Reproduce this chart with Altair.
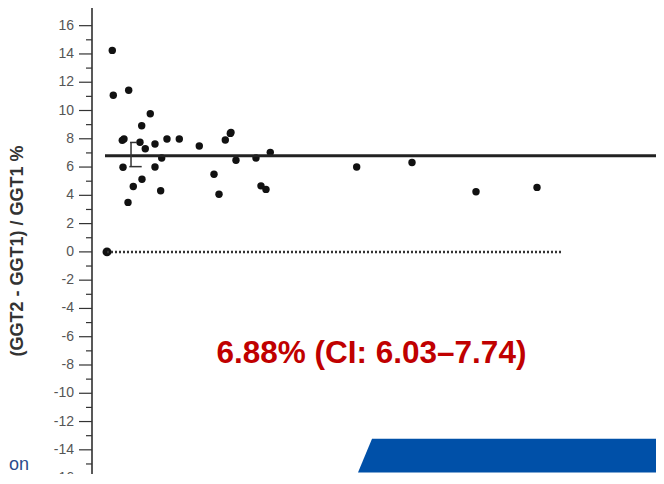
import altair as alt
import pandas as pd

# ---- data ----
pct_x = [3.57, 3.75, 6.46, 10.26, 8.75, 5.33, 5.63, 8.45, 9.38, 11.09, 13.20, 15.37,
         18.89, 23.47, 24.35, 24.47, 31.39, 12.27, 25.35, 28.87, 5.46, 11.09, 21.48,
         8.80, 7.27, 12.09, 22.36, 29.75, 30.63, 6.34, 46.60, 56.34, 67.61, 78.35]
pct_y = [14.25, 11.08, 11.43, 9.77, 8.92, 7.89, 7.98, 7.75, 7.30, 7.63, 7.98, 7.98,
         7.49, 7.91, 8.38, 8.45, 7.04, 6.64, 6.48, 6.64, 5.99, 6.00, 5.49,
         5.14, 4.63, 4.32, 4.08, 4.67, 4.42, 3.50, 6.00, 6.32, 4.25, 4.56]
ref_x = [2.64]
ref_y = [0.0]
mean_value = 6.8
mean_x = [2.29, 99.3]
zero_x = [2.64, 82.75]
ci_x = [6.87]
ci_low = [6.03]
ci_high = [7.74]
cap_low_x = [6.57, 8.75]
cap_high_x = [6.70, 7.90]
label_text = ["6.88% (CI: 6.03\u20137.74)"]
label_pos = [49.2, -7.2]
major_ticks = [-16, -14, -12, -10, -8, -6, -4, -2, 0, 2, 4, 6, 8, 10, 12, 14, 16]
tick_labels = ["-16", "-14", "-12", "-10", "-8", "-6", "-4", "-2", "0", "2", "4", "6",
               "8", "10", "12", "14", "16"]
minor_ticks = [-15, -13, -11, -9, -7, -5, -3, -1, 1, 3, 5, 7, 9, 11, 13, 15]
y_title = ["(GGT2 - GGT1) / GGT1 %"]
banner_x = [46.83, 49.30, 99.3]
banner_top = [-15.6, -13.22, -13.22]
banner_bottom = [-15.6, -15.6, -15.6]
corner_text = ["on"]
corner_pos = [-14.6, -15.7]

Y_DOM = [-15.71, 17.25]
X_DOM = [0, 99.3]
FONT = "Liberation Sans"

xs = alt.Scale(domain=X_DOM, nice=False, zero=False)
ys = alt.Scale(domain=Y_DOM, nice=False, zero=False)


def Y(field="y"):
    return alt.Y(f"{field}:Q", scale=ys, axis=None)


def X(field="x"):
    return alt.X(f"{field}:Q", scale=xs, axis=None)


# ---- hand-built y axis ----
dom_df = pd.DataFrame({"y": [Y_DOM[0]], "y2": [Y_DOM[1]]})
domain_line = alt.Chart(dom_df).mark_rule(color="#222", strokeWidth=1.5).encode(
    x=alt.value(0), y=Y(), y2="y2:Q"
)
maj_df = pd.DataFrame({"y": major_ticks, "t": tick_labels})
major = alt.Chart(maj_df).mark_rule(color="#333", strokeWidth=1.2).encode(
    x=alt.value(-13), x2=alt.value(0), y=Y()
)
labels = alt.Chart(maj_df).mark_text(
    font=FONT, fontSize=14, color="#555", align="right", baseline="middle"
).encode(x=alt.value(-18), y=Y(), text="t:N")
minor_df = pd.DataFrame({"y": minor_ticks})
minor = alt.Chart(minor_df).mark_rule(color="#333", strokeWidth=1.2).encode(
    x=alt.value(-6), x2=alt.value(0), y=Y()
)
title_df = pd.DataFrame({"t": y_title})
title = alt.Chart(title_df).mark_text(
    font=FONT, fontSize=18, fontWeight="bold", color="#333", angle=270,
    align="center", baseline="middle"
).encode(x=alt.value(-74), y=alt.value(243), text="t:N")

# ---- data marks ----
pts = pd.DataFrame({"x": pct_x, "y": pct_y})
refp = pd.DataFrame({"x": ref_x, "y": ref_y})
points = alt.Chart(pts).mark_circle(size=55, color="#111", opacity=1).encode(x=X(), y=Y())
refpoint = alt.Chart(refp).mark_circle(size=80, color="#111", opacity=1).encode(x=X(), y=Y())

mean_df = pd.DataFrame({"x": [mean_x[0]], "x2": [mean_x[1]], "y": [mean_value]})
mean_line = alt.Chart(mean_df).mark_rule(color="#222", strokeWidth=3).encode(
    x=X(), x2="x2:Q", y=Y()
)

zero_df = pd.DataFrame({"x": [zero_x[0]], "x2": [zero_x[1]], "y": [0.0]})
zero_line = alt.Chart(zero_df).mark_rule(color="#333", strokeWidth=2.5, strokeDash=[2, 2]).encode(
    x=X(), x2="x2:Q", y=Y()
)

ci_df = pd.DataFrame({"x": ci_x, "y": ci_low, "y2": ci_high})
ci_line = alt.Chart(ci_df).mark_rule(color="#333", strokeWidth=1.5).encode(
    x=X(), y=Y(), y2="y2:Q"
)
caps_df = pd.DataFrame({
    "x": [cap_low_x[0], cap_high_x[0]],
    "x2": [cap_low_x[1], cap_high_x[1]],
    "y": [ci_low[0], ci_high[0]],
})
caps = alt.Chart(caps_df).mark_rule(color="#333", strokeWidth=1.5).encode(
    x=X(), x2="x2:Q", y=Y()
)

lab_df = pd.DataFrame({"x": [label_pos[0]], "y": [label_pos[1]], "t": label_text})
label = alt.Chart(lab_df).mark_text(
    font=FONT, fontSize=31.5, fontWeight="bold", color="#c00000",
    align="center", baseline="middle"
).encode(x=X(), y=Y(), text="t:N")

ban_df = pd.DataFrame({"x": banner_x, "y": banner_top, "y2": banner_bottom})
banner = alt.Chart(ban_df).mark_area(color="#0050a8", opacity=1).encode(
    x=X(), y=Y(), y2="y2:Q"
)

corner_df = pd.DataFrame({"x": [corner_pos[0]], "y": [corner_pos[1]], "t": corner_text})
corner = alt.Chart(corner_df).mark_text(
    font=FONT, fontSize=18, color="#2b4a8c", align="left", baseline="bottom"
).encode(x=X(), y=Y(), text="t:N")

chart = alt.layer(
    domain_line, major, minor, labels, title,
    points, refpoint, zero_line, mean_line, ci_line, caps, label, banner, corner
).properties(
    width=564, height=466,
    autosize=alt.AutoSizeParams(type="none"),
    padding={"left": 84, "top": 0, "right": 0, "bottom": 0},
).configure_view(stroke=None)

chart.save("out.html", embed_options={"renderer": "svg", "actions": False})
